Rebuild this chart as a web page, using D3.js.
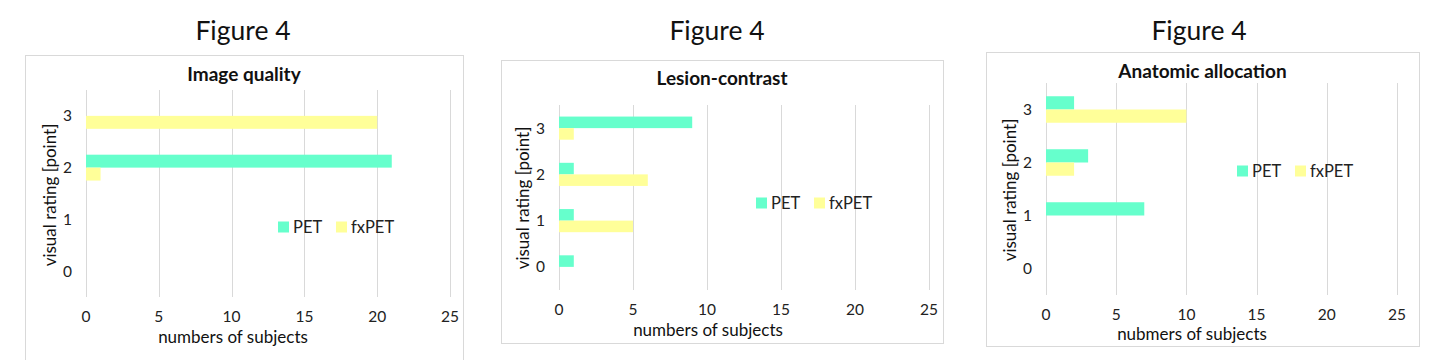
<!DOCTYPE html>
<html><head><meta charset="utf-8">
<script src="https://cdn.jsdelivr.net/npm/d3@7"></script>
<style>html,body{margin:0;padding:0;background:#fff;}svg{display:block;}</style>
</head><body>
<script>
const categories = ["3", "2", "1", "0"];
const seriesNames = ["PET", "fxPET"];
const xTicks = [0, 5, 10, 15, 20, 25];
const panelTitles = ["Image quality", "Lesion-contrast", "Anatomic allocation"];
const xTitles = ["numbers of subjects", "numbers of subjects", "nubmers of subjects"];
const yTitle = "visual rating [point]";
const figTitle = "Figure 4";
// values per category 0,1,2,3
const imagePET = [0, 0, 21, 0];
const imageFxPET = [0, 0, 1, 20];
const lesionPET = [1, 1, 1, 9];
const lesionFxPET = [0, 5, 6, 1];
const anatPET = [0, 7, 3, 2];
const anatFxPET = [0, 0, 2, 10];
const colors = ["#66ffcc", "#ffff99"];

const panels = [
  {pet: imagePET, fx: imageFxPET, figX: 243, box: [25, 55, 463, 370], titleY: 81,
   x0: 86, x1: 450, yTop: 90, yBot: 297, tickY: 322, xTitleX: 233, xTitleY: 343, yTitleX: 56, yTitleY: 195,
   legX: 278, legY: 227},
  {pet: lesionPET, fx: lesionFxPET, figX: 717, box: [501, 60, 943, 343], titleY: 85,
   x0: 559, x1: 929, yTop: 105, yBot: 290, tickY: 315, xTitleX: 708, xTitleY: 336, yTitleX: 529, yTitleY: 198,
   legX: 756, legY: 203},
  {pet: anatPET, fx: anatFxPET, figX: 1199, box: [986, 52, 1419, 346], titleY: 78,
   x0: 1046, x1: 1397, yTop: 83, yBot: 295, tickY: 320, xTitleX: 1192, xTitleY: 340, yTitleX: 1016, yTitleY: 190,
   legX: 1237, legY: 171}
];

const font = "Lato, 'Open Sans', sans-serif";
const svg = d3.select("body").append("svg").attr("width", 1440).attr("height", 360)
  .style("font-family", font);

panels.forEach((p, i) => {
  const g = svg.append("g");
  g.append("text").attr("x", p.figX).attr("y", 40).attr("text-anchor", "middle")
    .style("font-size", "26.5px").attr("fill", "#111").text(figTitle);
  g.append("rect").attr("x", p.box[0] + 0.5).attr("y", p.box[1] + 0.5)
    .attr("width", p.box[2] - p.box[0]).attr("height", p.box[3] - p.box[1])
    .attr("fill", "#fff").attr("stroke", "#d9d9d9");
  g.append("text").attr("x", (p.box[0] + p.box[2]) / 2).attr("y", p.titleY).attr("text-anchor", "middle")
    .style("font-size", "19px").style("font-weight", "bold").attr("fill", "#111").text(panelTitles[i]);

  const x = d3.scaleLinear().domain([0, 25]).range([p.x0, p.x1]);
  const y = d3.scaleBand().domain(categories).range([p.yTop, p.yBot]);
  const ys = d3.scaleBand().domain(seriesNames).range([0, y.bandwidth()]).paddingOuter(1);

  // gridlines
  g.append("g").selectAll("line").data(xTicks).join("line")
    .attr("x1", d => Math.round(x(d)) + 0.5).attr("x2", d => Math.round(x(d)) + 0.5)
    .attr("y1", p.yTop).attr("y2", p.yBot).attr("stroke", "#d9d9d9");

  const rows = [];
  categories.forEach(c => {
    const idx = +c;
    rows.push({cat: c, s: "PET", v: p.pet[idx], col: colors[0]});
    rows.push({cat: c, s: "fxPET", v: p.fx[idx], col: colors[1]});
  });
  g.append("g").selectAll("rect").data(rows.filter(r => r.v > 0)).join("rect")
    .attr("x", x(0)).attr("y", d => y(d.cat) + ys(d.s))
    .attr("width", d => x(d.v) - x(0)).attr("height", ys.bandwidth())
    .attr("fill", d => d.col);

  // x tick labels
  g.append("g").selectAll("text").data(xTicks).join("text")
    .attr("x", d => x(d)).attr("y", p.tickY).attr("text-anchor", "middle")
    .style("font-size", "15.5px").attr("fill", "#222").text(d => d);
  // y tick labels
  g.append("g").selectAll("text").data(categories).join("text")
    .attr("x", p.x0 - 14).attr("y", d => y(d) + y.bandwidth() / 2 + 5.5).attr("text-anchor", "end")
    .style("font-size", "15.5px").attr("fill", "#222").text(d => d);

  g.append("text").attr("x", p.xTitleX).attr("y", p.xTitleY).attr("text-anchor", "middle")
    .style("font-size", "17px").attr("fill", "#111").text(xTitles[i]);
  g.append("text").attr("transform", `translate(${p.yTitleX},${p.yTitleY}) rotate(-90)`)
    .attr("text-anchor", "middle").style("font-size", "17px").attr("fill", "#111").text(yTitle);

  // legend
  const lg = g.append("g").attr("transform", `translate(${p.legX},${p.legY})`);
  seriesNames.forEach((s, k) => {
    const ox = k * 58;
    lg.append("rect").attr("x", ox).attr("y", -5.5).attr("width", 11).attr("height", 11).attr("fill", colors[k]);
    lg.append("text").attr("x", ox + 15).attr("y", 6).style("font-size", "16.5px").attr("fill", "#222").text(s);
  });
});
</script>
</body></html>
